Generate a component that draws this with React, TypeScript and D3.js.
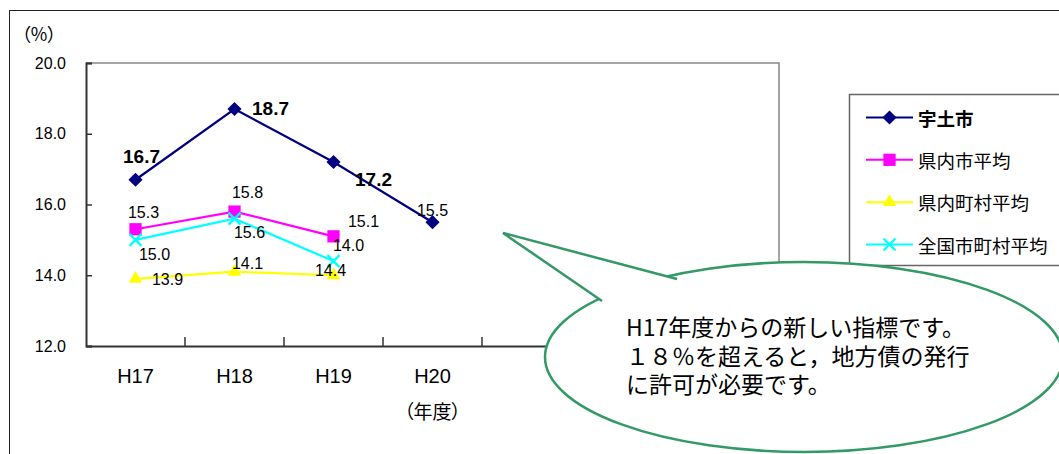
import React, { useEffect, useRef } from 'react';
import * as d3 from 'd3';

// data
const categories = ['H17', 'H18', 'H19', 'H20', '', '', ''];
const utoValues = [16.7, 18.7, 17.2, 15.5];
const prefCityValues = [15.3, 15.8, 15.1];
const prefTownValues = [13.9, 14.1, 14.0];
const nationalValues = [15.0, 15.6, 14.4];
const yTicks = [12, 14, 16, 18, 20];
const seriesNames = ['宇土市', '県内市平均', '県内町村平均', '全国市町村平均'];
const noteLines = ['H17年度からの新しい指標です。', '１８％を超えると，地方債の発行', 'に許可が必要です。'];

// label nudges (px), the original had hand-placed labels
const utoLabelOffsets = [[6, -23], [36, 0], [40, 17], [0, -12]];
const prefCityLabelOffsets = [[8, -17], [13, -19], [30, -15]];
const prefTownLabelOffsets = [[32, 1], [13, -8], [15, -30]];
const nationalLabelOffsets = [[19, 15], [15, 13.5], [-3, 9]];
// which of the 宇土市 labels are bold (the H20 one is not)
const utoLabelBold = [true, true, true, false];

const latin = "'Liberation Sans', Arial, sans-serif";
const cjk = "'Noto Sans CJK JP', 'Noto Sans CJK SC', sans-serif";

const W = 1059;
const H = 454;
const plot = { left: 86, top: 63, right: 779, bottom: 346 };

const series = [
  { name: seriesNames[0], values: utoValues, color: '#000080', marker: 'diamond', offsets: utoLabelOffsets, bold: utoLabelBold },
  { name: seriesNames[1], values: prefCityValues, color: '#ff00ff', marker: 'square', offsets: prefCityLabelOffsets, bold: [] as boolean[] },
  { name: seriesNames[2], values: prefTownValues, color: '#ffff00', marker: 'triangle', offsets: prefTownLabelOffsets, bold: [] as boolean[] },
  { name: seriesNames[3], values: nationalValues, color: '#00ffff', marker: 'x', offsets: nationalLabelOffsets, bold: [] as boolean[] },
];

function drawMarker(g: any, kind: string, color: string) {
  if (kind === 'diamond') {
    g.append('path').attr('d', d3.symbol(d3.symbolSquare, 100)()).attr('transform', 'rotate(45)').attr('fill', color);
  } else if (kind === 'square') {
    g.append('path').attr('d', d3.symbol(d3.symbolSquare, 150)()).attr('fill', color);
  } else if (kind === 'triangle') {
    g.append('path').attr('d', d3.symbol(d3.symbolTriangle, 80)()).attr('fill', color);
  } else {
    g.append('path').attr('d', 'M-6,-6L6,6M-6,6L6,-6').attr('stroke', color).attr('stroke-width', 2.2).attr('fill', 'none');
  }
}

const App = () => {
  const svgRef = useRef<SVGSVGElement>(null);

  useEffect(() => {
    const svg = d3.select(svgRef.current);
    svg.selectAll('*').remove();

    const x = d3.scaleBand<number>().domain(d3.range(categories.length)).range([plot.left, plot.right]);
    const y = d3.scaleLinear().domain([12, 20]).range([plot.bottom, plot.top]);
    const cx = (i: number) => (x(i) as number) + x.bandwidth() / 2;

    svg.append('rect').attr('width', W).attr('height', H).attr('fill', '#fff');

    // outer chart border (runs off the right and bottom)
    svg.append('rect').attr('x', 9.5).attr('y', 10.5).attr('width', 1200).attr('height', 600)
      .attr('fill', 'none').attr('stroke', '#222').attr('stroke-width', 1);

    // plot frame: grey top/right, dark axes
    svg.append('path')
      .attr('d', `M${plot.left},${plot.top}H${plot.right}V${plot.bottom}`)
      .attr('fill', 'none').attr('stroke', '#888').attr('stroke-width', 1.5);

    const yAxis = svg.append('g').attr('transform', `translate(${plot.left},0)`)
      .call(d3.axisRight(y).tickValues(yTicks).tickSize(6).tickFormat(() => ''));
    yAxis.select('.domain').attr('stroke', '#333').attr('stroke-width', 2);
    yAxis.selectAll('.tick line').attr('stroke', '#333').attr('stroke-width', 1.5);

    const xAxis = svg.append('g').attr('transform', `translate(0,${plot.bottom})`)
      .call(d3.axisTop(x).tickSize(0).tickFormat(() => ''));
    xAxis.select('.domain').attr('stroke', '#333').attr('stroke-width', 2);
    xAxis.selectAll('.tick').remove();
    // band boundary ticks
    svg.append('g').selectAll('line')
      .data(d3.range(1, categories.length + 1))
      .join('line')
      .attr('x1', d => plot.left + d * x.step()).attr('x2', d => plot.left + d * x.step())
      .attr('y1', plot.bottom).attr('y2', plot.bottom - 9)
      .attr('stroke', '#333').attr('stroke-width', 1.5);

    // y tick labels
    svg.append('g').selectAll('text')
      .data(yTicks)
      .join('text')
      .attr('x', 66).attr('y', d => y(d))
      .attr('text-anchor', 'end').attr('dominant-baseline', 'central')
      .attr('font-family', latin).attr('font-size', 16).attr('fill', '#000')
      .text(d => d3.format('.1f')(d));

    svg.append('text')
      .attr('x', 39).attr('y', 33).attr('text-anchor', 'middle').attr('dominant-baseline', 'central')
      .attr('font-family', cjk).attr('font-size', 18).style('font-feature-settings', '"palt"')
      .text('（%）');

    // x labels
    svg.append('g').selectAll('text')
      .data(categories.map((c, i) => ({ c, i })).filter(d => d.c))
      .join('text')
      .attr('x', d => cx(d.i)).attr('y', 376)
      .attr('text-anchor', 'middle').attr('dominant-baseline', 'central')
      .attr('font-family', latin).attr('font-size', 20)
      .text(d => d.c);

    svg.append('text')
      .attr('x', cx(3)).attr('y', 410).attr('text-anchor', 'middle').attr('dominant-baseline', 'central')
      .attr('font-family', cjk).attr('font-size', 19).style('font-feature-settings', '"palt"')
      .text('（年度）');

    // lines and markers
    const line = d3.line<number>().x((_, i) => cx(i)).y(d => y(d));
    series.forEach(s => {
      svg.append('path').attr('d', line(s.values)).attr('fill', 'none')
        .attr('stroke', s.color).attr('stroke-width', 2.2);
      s.values.forEach((v, i) => {
        const g = svg.append('g').attr('transform', `translate(${cx(i)},${y(v)})`);
        drawMarker(g, s.marker, s.color);
      });
    });

    // data labels
    series.forEach(s => {
      s.values.forEach((v, i) => {
        const bold = !!s.bold[i];
        svg.append('text')
          .attr('x', cx(i) + s.offsets[i][0]).attr('y', y(v) + s.offsets[i][1])
          .attr('text-anchor', 'middle').attr('dominant-baseline', 'central')
          .attr('font-family', latin)
          .attr('font-size', bold ? 19 : 16)
          .attr('font-weight', bold ? 'bold' : 'normal')
          .attr('fill', '#000')
          .text(d3.format('.1f')(v));
      });
    });

    // legend
    const legend = svg.append('g');
    legend.append('rect').attr('x', 849.5).attr('y', 94.5).attr('width', 300).attr('height', 171)
      .attr('fill', '#fff').attr('stroke', '#666').attr('stroke-width', 1.5);
    const rowY = d3.scalePoint<number>().domain(d3.range(series.length)).range([117.5, 244.5]);
    series.forEach((s, i) => {
      const ry = rowY(i) as number;
      legend.append('line').attr('x1', 866).attr('x2', 913).attr('y1', ry).attr('y2', ry)
        .attr('stroke', s.color).attr('stroke-width', 2);
      drawMarker(legend.append('g').attr('transform', `translate(889.5,${ry})`), s.marker, s.color);
      legend.append('text').attr('x', 918).attr('y', ry).attr('dominant-baseline', 'central')
        .attr('font-family', cjk).attr('font-size', 18.5)
        .attr('font-weight', i === 0 ? 'bold' : 'normal')
        .text(s.name);
    });

    // speech bubble annotation
    const bubble = svg.append('g');
    const green = '#339966';
    bubble.append('ellipse').attr('cx', 804).attr('cy', 357).attr('rx', 259).attr('ry', 95)
      .attr('fill', '#fff').attr('stroke', green).attr('stroke-width', 2.5);
    const tip: [number, number] = [503, 233];
    const b1: [number, number] = [677, 279];
    const b2: [number, number] = [602, 301];
    bubble.append('path').attr('d', `M${b1}L${tip}L${b2}Z`).attr('fill', '#fff');
    bubble.append('path').attr('d', `M${b1}L${tip}L${b2}`).attr('fill', 'none')
      .attr('stroke', green).attr('stroke-width', 2.5).attr('stroke-linejoin', 'miter');
    bubble.append('g').selectAll('text')
      .data(noteLines)
      .join('text')
      .attr('x', 626).attr('y', (_, i) => 336 + i * 28.5)
      .attr('font-family', cjk).attr('font-size', 23).attr('fill', '#000')
      .text(d => d);
  }, []);

  return (
    <svg ref={svgRef} width={W} height={H} style={{ position: 'absolute', left: 0, top: 0, display: 'block' }} />
  );
};

export default App;
